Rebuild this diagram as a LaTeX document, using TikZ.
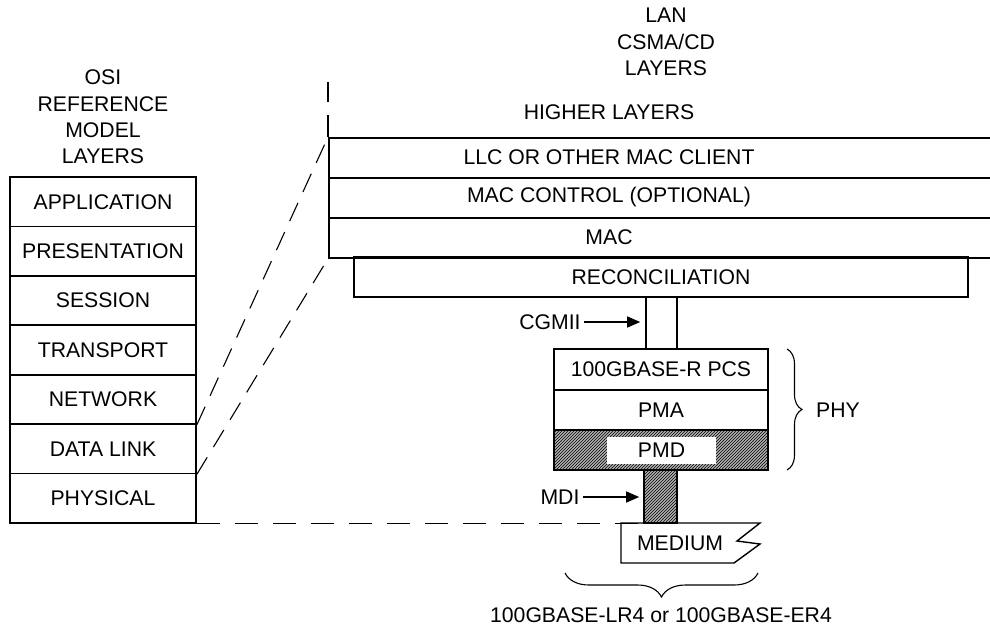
\documentclass[tikz,border=0pt]{standalone}
\usepackage{fontspec}
\setmainfont{Liberation Sans}
\usetikzlibrary{arrows.meta,patterns,decorations.pathreplacing}

\begin{document}
\begin{tikzpicture}[
    x=1pt, y=-1pt,
    every node/.style={font=\fontsize{21.2}{26.3}\selectfont},
    layer/.style={draw, line width=1.6pt, minimum width=186pt, minimum height=49.4pt, inner sep=0pt},
    lanrow/.style={draw, line width=1.6pt, anchor=north west, minimum width=680pt, minimum height=40pt, inner sep=0pt},
    phybox/.style={draw, line width=1.6pt, minimum width=214pt, minimum height=40.5pt, inner sep=0pt},
    hatch/.style={fill=black!30, postaction={pattern=north east lines}},
    map/.style={dash pattern=on 20pt off 12pt, line width=1.1pt},
    ptr/.style={-{Triangle[length=13pt,width=11pt]}, line width=1.2pt},
    brc/.style={decorate, line width=1.1pt}
]
\useasboundingbox (0,0) rectangle (990,630);

% OSI reference model
\node[align=center] (osititle) at (103,117) {OSI\\REFERENCE\\MODEL\\LAYERS};
\node[layer] (app) at (103,201.7) {APPLICATION};
\node[layer] (pres) at (103,251.1) {PRESENTATION};
\node[layer] (sess) at (103,300.5) {SESSION};
\node[layer] (trans) at (103,350) {TRANSPORT};
\node[layer] (net) at (103,399.4) {NETWORK};
\node[layer] (dl) at (103,448.9) {DATA LINK};
\node[layer] (phys) at (103,498.3) {PHYSICAL};

% LAN CSMA/CD layers
\node[align=center] (lantitle) at (666,42) {LAN\\CSMA/CD\\LAYERS};
\node (higher) at (609,112) {HIGHER LAYERS};
\node[lanrow] (llc) at (328,137) {};
\node[lanrow] (macctrl) at (328,177) {};
\node[lanrow] (mac) at (328,217) {};
\node (llctxt) at (609,157) {LLC OR OTHER MAC CLIENT};
\node (macctrltxt) at (609,197) {MAC CONTROL (OPTIONAL)};
\node (mactxt) at (609,237) {MAC};
\node[draw, line width=1.6pt, minimum width=614pt, minimum height=40pt, inner sep=0pt] (recon) at (661,277) {RECONCILIATION};
\coordinate (lantop) at (328,82);
\draw[map, dash pattern=on 22pt off 13pt, line width=1.6pt] (llc.north west) -- (lantop);

% PHY
\node[draw, line width=1.6pt, minimum width=31pt, minimum height=52pt, inner sep=0pt] (cgmii) at (661.5,323) {};
\node[phybox] (pcs) at (661,369.5) {100GBASE-R PCS};
\node[phybox] (pma) at (661,410) {PMA};
\node[phybox, hatch] (pmd) at (661,450) {};
\node[fill=white, minimum width=109pt, minimum height=27pt, inner sep=0pt] (pmdtxt) at (661.5,450.5) {PMD};
\node[draw, line width=1.6pt, hatch, minimum width=33pt, minimum height=53pt, inner sep=0pt] (stem) at (660.5,496.5) {};
\node (medium) at (680,543) {MEDIUM};
\draw[line width=1.4pt] (621,523) -- (760,523) -- (737,541) -- (760,544) -- (734,563) -- (621,563) -- cycle;

\node (cgmiilbl) at (550,322) {CGMII};
\draw[ptr, shorten >=5pt] (cgmiilbl.east) -- (cgmiilbl.east -| cgmii.west);
\node (mdilbl) at (560,497) {MDI};
\draw[ptr, shorten >=4pt] (mdilbl.east) -- (mdilbl.east -| stem.west);

\draw[brc, decoration={brace, amplitude=15pt}] (787,349) -- (787,470);
\node (phy) at (838,410) {PHY};
\draw[brc, decoration={brace, amplitude=24pt, mirror}] (565,573) -- (758,573);
\node (variant) at (661,615) {100GBASE-LR4 or 100GBASE-ER4};

% mapping lines
\draw[map] (net.south east) -- (llc.north west);
\draw[map] (dl.south east) -- (mac.south west);
\draw[map, dash pattern=on 23pt off 15pt] (phys.south east) -- (stem.south west);
\end{tikzpicture}
\end{document}
